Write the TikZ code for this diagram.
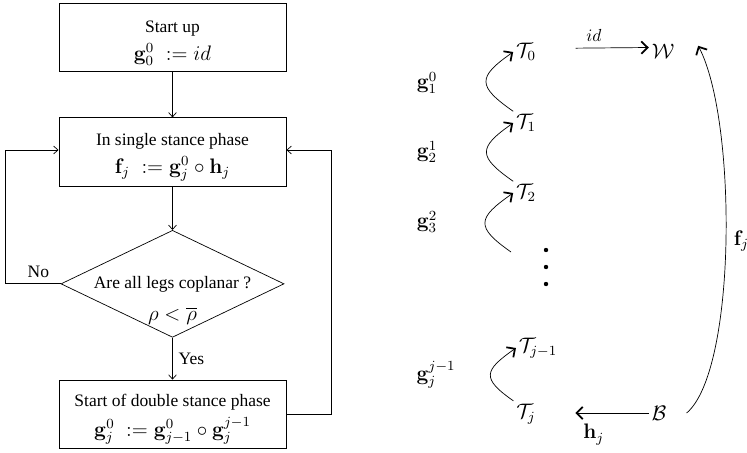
\documentclass[tikz,border=0pt]{standalone}
\usepackage[no-math]{fontspec}
\setmainfont{Liberation Serif}
\usepackage{amsmath,amssymb}
\usetikzlibrary{arrows.meta,positioning,shapes.geometric}

\newcommand{\topstrut}{\rule{0pt}{13pt}}

\begin{document}
\begin{tikzpicture}[
    x=0.572pt, y=-0.572pt,
    node distance=26pt,
    box/.style={
        rectangle, draw, minimum width=130pt, minimum height=39pt,
        inner ysep=0.5pt, align=center, font=\normalsize
    },
    decision/.style={
        diamond, draw, aspect=2.1, inner sep=0pt,
        minimum width=127.6pt, minimum height=61.2pt
    },
    arrow/.style={-{Straight Barb[length=2.5pt,width=4.5pt]}},
    maparrow/.style={-{Straight Barb[length=3.6pt,width=7pt,line width=1pt]}},
    obj/.style={inner sep=1.5pt, font=\large},
    curvy/.style={maparrow, out=145, in=215, looseness=1.9}
]
\useasboundingbox (0,0) rectangle (747,452);

% flowchart
\node[box] (start) at (172.5,37.5)
    {\topstrut Start up\\[4pt] {\large $\mathbf{g}_0^0\;:= id$}};
\node[box,below=of start] (single)
    {\topstrut In single stance phase\\[4pt]
     {\large $\mathbf{f}_j\;:= \mathbf{g}_j^0 \circ \mathbf{h}_j$}};
\node[decision,below=25pt of single] (cond) {};
\node (question) at (cond.center) {Are all legs coplanar ?};
\node[below=2pt of question,font=\large] (rho) {$\rho < \overline{\rho}$};
\node[box,below=24pt of cond] (double)
    {\topstrut Start of double stance phase\\[3pt]
     {\large $\mathbf{g}_j^0\;:= \mathbf{g}_{j-1}^0 \circ \mathbf{g}_j^{j-1}$}};

\coordinate (noleft)  at (5,150);
\coordinate (yesright) at (331,150);

\draw[arrow] (start) -- (single);
\draw[arrow] (single) -- (cond);
\draw[arrow] (cond) -- node[right] {Yes} (double);
\draw[arrow] (cond.west) -- node[above,pos=0.4] {No} (cond.west -| noleft)
    -- (noleft) -- (noleft -| single.west);
\draw[arrow] (double.east) -- (double.east -| yesright)
    -- (yesright) -- (yesright -| single.east);

% frames
\node[obj] (T0)  at (526,52)  {$\mathcal{T}_0$};
\node[obj] (T1)  at (526,123) {$\mathcal{T}_1$};
\node[obj] (T2)  at (526,193) {$\mathcal{T}_2$};
\node[obj] (Tjm) at (538,348) {$\mathcal{T}_{j-1}$};
\node[obj] (Tj)  at (526,414) {$\mathcal{T}_j$};
\node[obj] (W)   at (663,51)  {$\mathcal{W}$};
\node[obj] (B)   at (659,413) {$\mathcal{B}$};
\coordinate (T3) at (511,252);

\node[obj] (g10) at (427,83)  {$\mathbf{g}_1^0$};
\node[obj] (g21) at (427,152) {$\mathbf{g}_2^1$};
\node[obj] (g32) at (427,222) {$\mathbf{g}_3^2$};
\node[obj] (gjj) at (436,375) {$\mathbf{g}_j^{j-1}$};

\foreach \y in {250,267,284}
    \fill (546,\y) circle (2.2);

\draw[curvy] (T1.north west) to (T0.west);
\draw[curvy] (T2.north west) to (T1.west);
\draw[curvy] (T3) to (T2.west);
\draw[curvy] (Tj.north west) to (Tjm.west);

\draw[maparrow,shorten <=21pt] ([yshift=2pt]T0.east) --
    node[above] {$id$} ([yshift=2pt]W.west);
\draw[maparrow,shorten >=21pt] (B.west) --
    node[below=3pt,font=\large] {$\mathbf{h}_j$} (Tj.east |- B.west);
\draw[maparrow] ([xshift=10pt]B.east)
    .. controls (737,370) and (737,120) .. ([xshift=12pt,yshift=3pt]W.east)
    node[pos=0.5,right=1pt,font=\large] (fj) {$\mathbf{f}_j$};
\end{tikzpicture}
\end{document}
